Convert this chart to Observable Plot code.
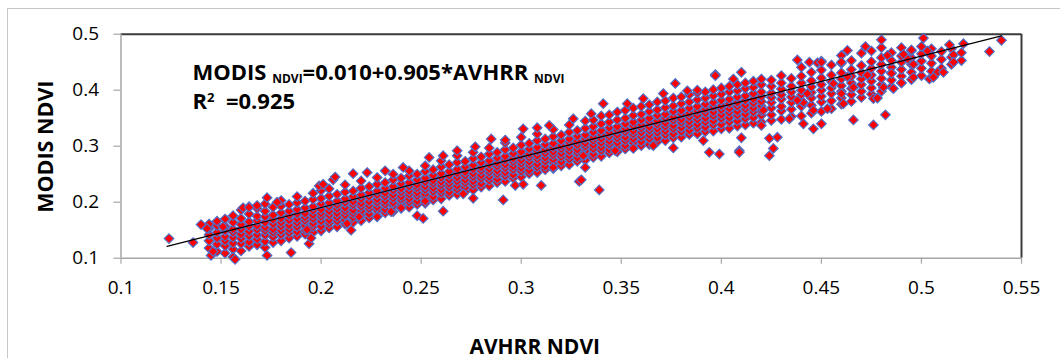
<!DOCTYPE html>
<html><head><meta charset="utf-8">
<script src="https://cdn.jsdelivr.net/npm/d3@7"></script>
<script src="https://cdn.jsdelivr.net/npm/@observablehq/plot@0.6"></script>
<style>
html,body{margin:0;padding:0;background:#fff;overflow:hidden;}
#wrap{position:relative;width:1060px;height:358px;overflow:hidden;}
#chart{position:absolute;left:0;top:0;}
#border{position:absolute;left:7px;top:8px;width:1100px;height:420px;border:1px solid #c6c6c6;pointer-events:none;}
</style></head><body>
<div id="wrap"><div id="chart"></div><div id="border"></div></div>
<script>
// Axis ticks
const xTicks = [0.1, 0.15, 0.2, 0.25, 0.3, 0.35, 0.4, 0.45, 0.5, 0.55];
const xTickLabels = ["0.1", "0.15", "0.2", "0.25", "0.3", "0.35", "0.4", "0.45", "0.5", "0.55"];
const yTicks = [0.1, 0.2, 0.3, 0.4, 0.5];
const yTickLabels = ["0.1", "0.2", "0.3", "0.4", "0.5"];

// Scatter points, NDVI x 1000: one AVHRR value per column, MODIS values of that column
const colX = [144,148,152,156,160,164,168,172,176,180,184,188,192,196,200,204,208,212,216,220,
  224,228,232,236,240,244,248,252,256,260,264,268,272,276,280,284,288,292,296,300,
  304,308,312,316,320,324,328,332,336,340,344,348,352,356,360,364,368,372,376,380,
  384,388,392,396,400,404,408,412,416,420,425,430,435,440,445,450,455,460,465,470,
  475,480,485,490,495,500,505,510,515,520];
const colY = [
  "118 131 142 153 161","112 125 136 146 158 166","109 122 131 139 149 157 170","116 127 137 146 152 164 176",
  "113 126 135 143 152 160 171 186","121 129 140 148 157 165 179 192","124 134 142 151 158 167 175 189",
  "119 130 141 149 155 164 174 184 197","128 138 146 152 161 169 177 191","131 142 149 157 164 171 181 193 203",
  "136 145 152 159 168 176 184 196","139 147 156 163 170 179 187 199 210","143 150 158 167 173 180 190 202",
  "146 156 162 170 177 185 192 205 216","149 157 166 174 180 187 197 207 221","154 162 168 177 184 192 199 211 224",
  "156 166 173 180 188 195 202 214","161 168 177 184 190 199 206 218 231","164 173 180 186 195 201 210 220",
  "167 177 184 192 198 206 213 225 238","172 179 188 194 201 210 217 228","175 185 191 199 205 213 220 232 244",
  "181 187 196 202 210 216 225 235","183 193 199 207 213 221 228 240 250","189 195 204 210 218 224 233 243",
  "191 200 206 214 220 228 235 247 256","196 202 211 217 225 231 240 250","198 208 214 222 228 236 243 255 265",
  "204 210 219 225 233 239 248 258","206 216 222 230 236 244 251 263 274","212 218 227 233 240 248 255 267",
  "214 223 229 237 244 252 259 271 283","219 226 234 240 248 254 263 273","222 231 237 245 251 259 266 278 289",
  "227 233 242 248 256 262 271 281","229 239 245 253 259 267 274 286 297","235 241 250 256 264 270 279 289",
  "237 247 253 261 267 275 282 294 306","243 249 258 264 272 278 287 297","245 255 261 269 275 283 290 302 316",
  "251 257 266 272 280 286 295 305","253 262 268 277 283 291 298 310 322","258 264 273 279 287 294 303 313",
  "260 270 276 284 290 298 305 317 330","265 272 281 287 295 301 310 320","267 277 283 291 298 306 313 325 338",
  "273 279 288 294 302 309 318 328","275 284 291 299 305 313 320 332 345","280 286 295 302 310 316 325 335 347",
  "282 292 298 306 313 321 328 340 354","288 294 303 309 317 324 333 343 356","290 299 306 314 320 328 335 347 361",
  "295 301 310 316 325 331 340 350 364","297 306 313 321 327 336 343 355 368","301 308 317 324 332 338 347 357 371",
  "303 313 320 328 334 343 350 362 374","308 315 324 331 339 345 355 365 379","310 320 327 335 341 350 357 369 381",
  "315 322 331 337 346 352 362 372 386","316 326 333 342 348 357 364 376 388","321 328 337 344 352 359 368 379 392",
  "322 332 339 348 355 363 371 383 395","326 334 343 350 359 366 375 386 397","327 338 345 354 361 370 378 390 401",
  "331 339 349 356 365 372 382 393 404","332 343 351 360 367 376 384 397 407","336 345 355 362 371 378 388 399 410",
  "338 349 357 366 373 382 390 403 413","341 351 361 368 377 384 394 405 416","343 355 363 372 380 389 397 410 420",
  "346 356 368 378 387 395 407 418","348 363 371 384 392 402 413 426","353 366 378 388 397 407 421",
  "354 371 381 392 400 413 425 441","359 373 386 396 406 417 432","362 379 389 400 410 422 436 452",
  "367 381 394 404 415 427 445","375 386 398 408 420 431 448 462","380 392 403 413 425 437 453",
  "387 398 410 420 431 444 466","393 404 416 427 439 451 470","398 410 421 434 446 458 476",
  "406 418 431 441 453 467","413 425 437 450 461 476","419 432 446 458 470","426 439 452 465 478",
  "434 448 461 474","439 455 469","446 459 474","453 467"
];
// Scattered points off the main band, NDVI x 1000
const extraX = [124,136,140,143,145,146,151,156,157,161,164,168,173,173,178,185,193,194,195,199,206,207,201,215,
  216,223,232,241,254,261,268,277,285,292,301,308,314,326,335,341,353,361,371,377,383,388,397,410,406,397,
  219,213,228,235,240,252,248,251,261,276,271,291,297,301,310,329,339,330,316,332,331,347,356,366,376,391,394,399,409,410,409,424,426,424,428,434,441,446,450,466,476,482,
  438,444,448,450,460,463,472,480,483,493,491,495,501,503,514,521,516,516,534,540,
  476,478,481,486,490,496,504,508,511,506,496,485,473,463,466,460,461,453,441,438,443,446,420,421,456];
const extraY = [135,128,160,153,105,112,156,102,98,190,191,194,208,105,200,110,151,126,136,229,240,245,232,150,
  251,253,256,262,280,283,292,299,313,311,331,333,337,349,358,376,376,385,394,412,399,400,428,432,420,426,
  174,162,174,183,190,202,176,171,184,207,215,204,230,232,230,237,222,240,262,262,283,292,296,301,297,310,289,286,292,315,289,283,296,314,316,349,340,331,340,347,338,356,
  454,450,449,450,450,471,478,490,462,456,464,472,493,470,481,483,463,450,469,489,
  385,386,405,403,413,446,420,432,432,423,423,430,427,424,405,394,376,367,378,382,394,364,337,364,412];

// Fitted trend line end points
const lineX = [0.123, 0.540];
const lineY = [0.121, 0.497];

const pts = [];
colX.forEach((cx, i) => colY[i].split(" ").forEach(v => pts.push({x: cx / 1000, y: +v / 1000})));
extraX.forEach((ex, i) => pts.push({x: ex / 1000, y: extraY[i] / 1000}));
const trend = lineX.map((x, i) => ({x, y: lineY[i]}));

const font = "'Open Sans', 'DejaVu Sans', sans-serif";
const axisGray = "#a6a6a6";
const plot = Plot.plot({
  width: 1060, height: 358,
  marginLeft: 120.5, marginRight: 39, marginTop: 33.7, marginBottom: 100.3,
  x: {domain: [0.1, 0.55], axis: null},
  y: {domain: [0.1, 0.5], axis: null},
  style: {background: "transparent", fontFamily: font, color: "#000"},
  marks: [
    Plot.ruleY([0.5], {stroke: "#3a3a3a", strokeWidth: 2}),
    Plot.ruleX([0.55], {stroke: "#3a3a3a", strokeWidth: 2}),
    Plot.ruleX([0.1], {stroke: axisGray, strokeWidth: 1.5}),
    Plot.ruleY([0.1], {stroke: axisGray, strokeWidth: 1.5}),
    Plot.ruleY(yTicks, {y: d => d, x1: 0.1, x2: 0.1, insetLeft: -7, stroke: axisGray, strokeWidth: 1.2}),
    Plot.ruleX(xTicks, {x: d => d, y1: 0.1, y2: 0.1, insetBottom: -6, stroke: axisGray, strokeWidth: 1.2}),
    Plot.text(yTicks, {x: 0.1, y: d => d, text: (d, i) => yTickLabels[i], textAnchor: "end", dx: -22, fontSize: 19, fill: "#000"}),
    Plot.text(xTicks, {x: d => d, y: 0.1, text: (d, i) => xTickLabels[i], dy: 30, fontSize: 19, fill: "#000"}),
    Plot.dot(pts, {x: "x", y: "y", symbol: "diamond2", r: 4.3, fill: "#ff0000", stroke: "#4f6fc8", strokeWidth: 1.2}),
    Plot.line(trend, {x: "x", y: "y", stroke: "#000", strokeWidth: 1.2})
  ]
});
document.getElementById("chart").appendChild(plot);

const xs = plot.scale("x"), ys = plot.scale("y");
const fx = xs.apply ? v => xs.apply(v) : d3.scaleLinear(xs.domain, xs.range);
const fy = ys.apply ? v => ys.apply(v) : d3.scaleLinear(ys.domain, ys.range);
const svg = d3.select(plot);

// Regression equation annotation
const eqX = 0.136, eqY1 = 0.417, eqY2 = 0.3655;
const eq = svg.append("text").attr("x", fx(eqX)).attr("y", fy(eqY1)).attr("text-anchor", "start")
  .attr("font-family", font).attr("font-weight", "bold").attr("font-size", 22).attr("fill", "#000");
eq.append("tspan").text("MODIS ");
eq.append("tspan").attr("font-size", 12).attr("dy", 3).text("NDVI");
eq.append("tspan").attr("dy", -3).text("=0.010+0.905*AVHRR ");
eq.append("tspan").attr("font-size", 12).attr("dy", 3).text("NDVI");
const r2 = svg.append("text").attr("x", fx(eqX)).attr("y", fy(eqY2)).attr("text-anchor", "start")
  .attr("font-family", font).attr("font-weight", "bold").attr("font-size", 22).attr("fill", "#000");
r2.append("tspan").text("R");
r2.append("tspan").attr("font-size", 13).attr("dy", -7).text("2");
r2.append("tspan").attr("dy", 7).text("\u00a0 =0.925");

// Axis titles
svg.append("text").attr("transform", "translate(53,146.7) rotate(-90)")
  .attr("text-anchor", "middle").attr("font-family", font).attr("font-weight", "bold")
  .attr("font-size", 21.5).attr("fill", "#000").text("MODIS NDVI");
svg.append("text").attr("x", 534.7).attr("y", 353.5)
  .attr("text-anchor", "middle").attr("font-family", font).attr("font-weight", "bold")
  .attr("font-size", 21).attr("fill", "#000").text("AVHRR NDVI");
</script>
</body></html>
